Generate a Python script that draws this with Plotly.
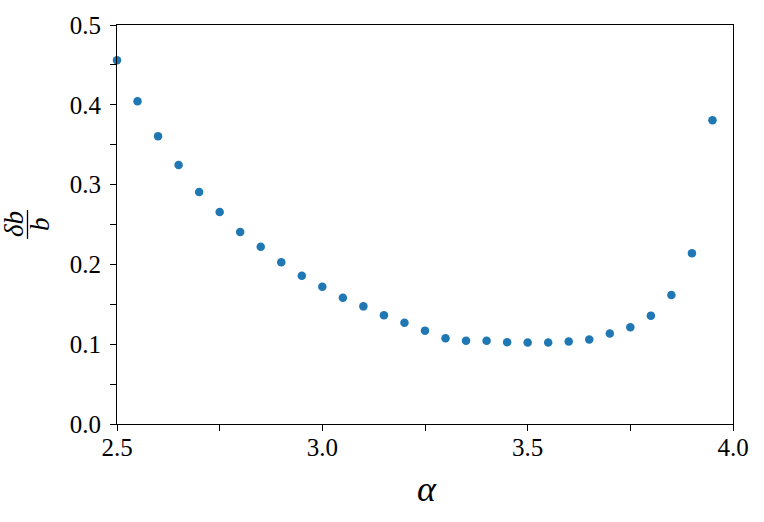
import plotly.graph_objects as go

alpha = [2.50, 2.55, 2.60, 2.65, 2.70, 2.75, 2.80, 2.85, 2.90, 2.95,
         3.00, 3.05, 3.10, 3.15, 3.20, 3.25, 3.30, 3.35, 3.40, 3.45,
         3.50, 3.55, 3.60, 3.65, 3.70, 3.75, 3.80, 3.85, 3.90, 3.95]
db_over_b = [0.4557, 0.4044, 0.3607, 0.3245, 0.2907, 0.2657, 0.2407, 0.2220, 0.2026, 0.1858,
             0.1719, 0.1583, 0.1474, 0.1362, 0.1270, 0.1170, 0.1074, 0.1042, 0.1042, 0.1025,
             0.1021, 0.1021, 0.1033, 0.1058, 0.1133, 0.1212, 0.1358, 0.1616, 0.2141, 0.3806]

x_ticks = [2.5, 3.0, 3.5, 4.0]
x_ticklabels = ["2.5", "3.0", "3.5", "4.0"]
y_ticks = [0.0, 0.1, 0.2, 0.3, 0.4, 0.5]
y_ticklabels = ["0.0", "0.1", "0.2", "0.3", "0.4", "0.5"]

# body margin is removed by the post_script below, so figure pixels == page pixels
W, H = 764, 522
L, T = 117, 23
PW, PH = 616, 401
R, B = W - L - PW, H - T - PH
FONT = "Liberation Serif"

fig = go.Figure()
fig.add_trace(go.Scatter(
    x=alpha, y=db_over_b, mode="markers",
    marker=dict(color="#1f77b4", size=8.5, line=dict(width=0)),
    cliponaxis=False, showlegend=False,
))

axis_common = dict(
    showgrid=False, zeroline=False, showline=True, linecolor="black", linewidth=1.2,
    mirror=True, ticks="outside", ticklen=6, tickwidth=1.2, tickcolor="black",
    tickfont=dict(family=FONT, size=25, color="black"),
)

fig.update_xaxes(range=[2.5, 4.0], tickvals=x_ticks, ticktext=x_ticklabels,
                 minor=dict(dtick=0.25, ticks="outside", ticklen=6, tickwidth=1.2, tickcolor="black"),
                 ticklabelstandoff=-5,
                 **axis_common)
fig.update_yaxes(range=[0.0, 0.5], tickvals=y_ticks, ticktext=y_ticklabels,
                 minor=dict(dtick=0.05, ticks="outside", ticklen=6, tickwidth=1.2, tickcolor="black"),
                 ticklabelstandoff=4,
                 **axis_common)

def px2paper(px, py):
    return (px - L) / PW, 1 - (py - T) / PH

# x label
ax, ay = px2paper(427, 489)
fig.add_annotation(x=ax, y=ay, xref="paper", yref="paper", text="<i>α</i>",
                   xanchor="center", yanchor="middle",
                   showarrow=False, font=dict(family=FONT, size=36, color="black"))

# y label as fraction δb / b rotated
nx, ny = px2paper(14, 223)
fig.add_annotation(x=nx, y=ny, xref="paper", yref="paper", text="<i>δb</i>",
                   xanchor="center", yanchor="middle",
                   textangle=-90, showarrow=False, font=dict(family=FONT, size=27, color="black"))
dx, dy = px2paper(40, 223)
fig.add_annotation(x=dx, y=dy, xref="paper", yref="paper", text="<i>b</i>",
                   xanchor="center", yanchor="middle",
                   textangle=-90, showarrow=False, font=dict(family=FONT, size=27, color="black"))
x0, y0 = px2paper(27.5, 209)
x1, y1 = px2paper(27.5, 238)
fig.add_shape(type="line", xref="paper", yref="paper", x0=x0, y0=y0, x1=x1, y1=y1,
              line=dict(color="black", width=1.3))

fig.update_layout(
    width=W, height=H, margin=dict(l=L, r=R, t=T, b=B),
    plot_bgcolor="white", paper_bgcolor="white",
    font=dict(family=FONT, color="black"),
)

fig.write_html("out.html", config={"displayModeBar": False},
               post_script="document.body.style.margin='0';document.body.style.overflow='hidden';")
